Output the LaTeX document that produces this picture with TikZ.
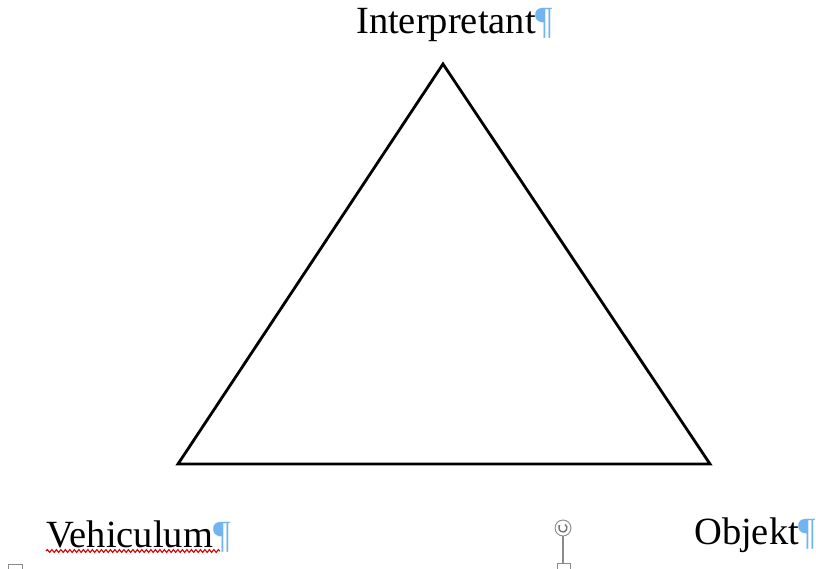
\documentclass[tikz,border=0pt]{standalone}
\usepackage{fontspec}
\setmainfont{Liberation Serif}
\usetikzlibrary{decorations.pathmorphing,arrows.meta}
\definecolor{pilcrow}{HTML}{72B4F2}
\definecolor{handle}{HTML}{8A8A8A}
\tikzset{
  lbl/.style={anchor=base west, inner sep=0pt, font=\fontsize{38.5}{40}\selectfont},
  tri/.style={draw=black, line width=2.8pt, line join=miter},
  hdl/.style={draw=handle, line width=0.9pt, fill=white},
}
\newcommand{\pil}{{\color{pilcrow}¶}}
\begin{document}
\begin{tikzpicture}[x=1pt,y=-1pt]
\useasboundingbox (0,0) rectangle (816,569);
\fill[white] (0,0) rectangle (816,569);
\coordinate (top) at (443,64);
\coordinate (bl) at (178,464);
\coordinate (br) at (710,464);
\draw[tri] (top) -- (bl) -- (br) -- cycle;
\node[lbl] (interp) at (356,34) {Interpretant\pil};
\node[lbl] (vehic) at (46,547) {Vehiculum\pil};
\node[lbl] (objekt) at (694,544) {Objekt\pil};
\draw[red!85!black, line width=1.1pt, decoration={snake, amplitude=1.4pt, segment length=4.5pt}, decorate]
  (46,551) -- (220,551);
% rotation handle
\node[hdl, circle, minimum size=16pt, inner sep=0pt] (rot) at (563,528) {};
\draw[handle!80!black, line width=1.3pt, -{Stealth[length=3pt]}] ([shift={(563,528)}]-60:4) arc[start angle=-60, end angle=230, radius=4];
\coordinate (sq) at (563,563);
\draw[handle, line width=1.2pt] (rot.south) -- (sq);
\draw[hdl] (557,563) rectangle (570,576);
\draw[hdl] (8,564) rectangle (22,576);
\end{tikzpicture}
\end{document}
